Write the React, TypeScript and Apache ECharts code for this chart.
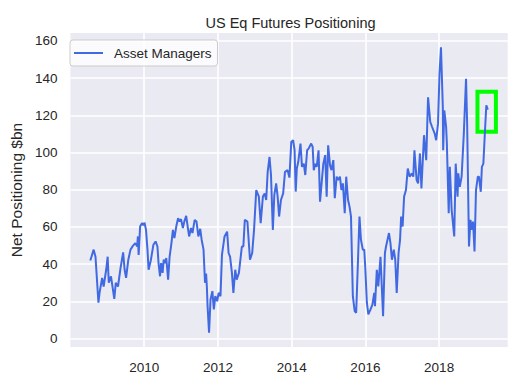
import React, { useEffect, useRef } from "react";
import * as echarts from "echarts";

// Decimal years (x) and net positioning in $bn (y)
const years: number[] = [
  2008.54, 2008.63, 2008.68, 2008.76, 2008.79, 2008.86, 2008.90, 2008.97, 2009.01, 2009.04,
  2009.10, 2009.19, 2009.23, 2009.29, 2009.36, 2009.43, 2009.47, 2009.51, 2009.57, 2009.63,
  2009.70, 2009.76, 2009.81, 2009.83, 2009.85, 2009.89, 2009.94, 2009.98, 2010.01, 2010.05,
  2010.09, 2010.12, 2010.18, 2010.25, 2010.31, 2010.36, 2010.39, 2010.43, 2010.46, 2010.50,
  2010.53, 2010.57, 2010.60, 2010.65, 2010.69, 2010.74, 2010.78, 2010.82, 2010.87, 2010.92,
  2010.96, 2011.00, 2011.05, 2011.09, 2011.14, 2011.18, 2011.22, 2011.27, 2011.31, 2011.37,
  2011.42, 2011.47, 2011.52, 2011.56, 2011.61, 2011.65, 2011.68, 2011.70, 2011.72, 2011.76,
  2011.80, 2011.85, 2011.89, 2011.93, 2011.98, 2012.02, 2012.07, 2012.11, 2012.18, 2012.25,
  2012.29, 2012.33, 2012.38, 2012.42, 2012.47, 2012.51, 2012.57, 2012.65, 2012.69, 2012.73,
  2012.80, 2012.87, 2012.93, 2012.98, 2013.04, 2013.11, 2013.16, 2013.22, 2013.27, 2013.31,
  2013.35, 2013.40, 2013.44, 2013.49, 2013.53, 2013.58, 2013.62, 2013.66, 2013.71, 2013.77,
  2013.82, 2013.89, 2013.94, 2013.99, 2014.04, 2014.08, 2014.11, 2014.14, 2014.18, 2014.24,
  2014.28, 2014.33, 2014.37, 2014.42, 2014.46, 2014.53, 2014.57, 2014.60, 2014.64, 2014.68,
  2014.73, 2014.77, 2014.82, 2014.86, 2014.91, 2014.95, 2014.99, 2015.04, 2015.08, 2015.13,
  2015.17, 2015.22, 2015.26, 2015.31, 2015.35, 2015.39, 2015.44, 2015.48, 2015.53, 2015.57,
  2015.61, 2015.66, 2015.71, 2015.75, 2015.80, 2015.84, 2015.88, 2015.93, 2015.97, 2016.00,
  2016.04, 2016.08, 2016.14, 2016.19, 2016.24, 2016.26, 2016.31, 2016.35, 2016.41, 2016.48,
  2016.53, 2016.56, 2016.64, 2016.68, 2016.72, 2016.77, 2016.81, 2016.85, 2016.90, 2016.94,
  2016.97, 2017.01, 2017.05, 2017.10, 2017.15, 2017.20, 2017.26, 2017.30, 2017.33, 2017.39,
  2017.43, 2017.48, 2017.52, 2017.59, 2017.65, 2017.70, 2017.76, 2017.81, 2017.88, 2017.92,
  2017.97, 2018.01, 2018.05, 2018.10, 2018.11, 2018.14, 2018.19, 2018.21, 2018.26, 2018.29,
  2018.34, 2018.41, 2018.45, 2018.50, 2018.52, 2018.56, 2018.61, 2018.67, 2018.73, 2018.76,
  2018.81, 2018.85, 2018.89, 2018.92, 2018.96, 2019.00, 2019.05, 2019.08, 2019.13, 2019.16,
  2019.20, 2019.24, 2019.28, 2019.32,
];

const positioning: number[] = [
  42.0, 47.8, 44.0, 19.3, 24.6, 32.6, 28.0, 37.0, 44.0, 30.0,
  33.5, 21.4, 30.0, 28.0, 38.0, 46.3, 37.0, 32.6, 42.4, 47.8,
  50.0, 51.3, 49.5, 54.9, 45.0, 60.2, 62.0, 61.0, 62.3, 58.4,
  47.8, 37.0, 42.0, 50.4, 52.2, 49.5, 40.6, 33.5, 40.6, 35.3,
  42.4, 40.6, 43.3, 31.7, 44.0, 51.3, 58.4, 54.0, 60.2, 64.7,
  62.9, 64.2, 59.4, 63.0, 66.0, 60.2, 54.9, 59.4, 56.7, 63.8,
  62.9, 54.9, 59.0, 53.0, 47.8, 30.0, 35.0, 28.0, 17.4, 3.2,
  21.0, 25.5, 15.7, 22.8, 20.1, 24.6, 22.8, 45.0, 54.9, 57.5,
  46.0, 44.0, 35.3, 24.6, 37.0, 31.7, 35.3, 49.5, 49.5, 63.8,
  62.9, 42.4, 46.0, 58.4, 79.8, 76.3, 62.0, 76.3, 78.0, 74.5,
  89.6, 97.6, 87.9, 58.4, 77.2, 83.4, 76.3, 65.6, 74.5, 78.0,
  89.6, 90.5, 86.5, 105.7, 106.6, 101.2, 79.0, 91.4, 95.0, 104.8,
  92.3, 94.0, 87.9, 101.2, 102.1, 104.8, 103.0, 90.5, 94.0, 92.3,
  101.2, 73.6, 85.2, 94.0, 98.6, 76.3, 103.9, 93.2, 90.5, 95.9,
  75.4, 87.0, 85.2, 87.0, 79.8, 83.4, 67.4, 87.0, 74.5, 70.9,
  65.6, 22.8, 14.8, 13.9, 42.4, 65.6, 53.1, 47.8, 47.8, 37.0,
  19.3, 13.0, 15.7, 18.3, 24.6, 17.4, 37.0, 28.0, 44.0, 12.0,
  46.0, 49.5, 56.7, 51.3, 42.4, 47.8, 42.4, 24.6, 46.0, 53.0,
  65.6, 60.2, 76.3, 79.8, 91.4, 87.0, 88.8, 87.0, 101.2, 85.2,
  83.4, 99.5, 80.7, 109.3, 95.9, 129.7, 116.4, 113.7, 110.2, 106.6,
  115.5, 142.2, 156.5, 124.4, 101.2, 122.6, 113.7, 104.8, 67.4, 92.3,
  69.1, 54.9, 94.0, 76.3, 88.8, 81.6, 87.0, 110.2, 139.6, 115.5,
  49.5, 63.8, 58.4, 62.9, 46.8, 79.8, 87.0, 87.0, 78.9, 92.3,
  94.0, 110.2, 125.3, 123.0,
];

const xTicks: number[] = [2010, 2012, 2014, 2016, 2018];
const yTicks: number[] = [0, 20, 40, 60, 80, 100, 120, 140, 160];

// Highlight box around the latest readings: [x0, y0] to [x1, y1] in data units
const highlightX: number[] = [2019.04, 2019.54];
const highlightY: number[] = [132.6, 111.2];

const FONT = "'Liberation Sans', Arial, Helvetica, sans-serif";
const TEXT = "#262626";

export default function App() {
  const ref = useRef<HTMLDivElement>(null);

  useEffect(() => {
    if (!ref.current) return;
    const chart = echarts.init(ref.current, undefined, { renderer: "svg" });
    const data = years.map((y, i) => [y, positioning[i]]);
    chart.setOption({
      animation: false,
      backgroundColor: "#ffffff",
      textStyle: { fontFamily: FONT },
      title: {
        text: "US Eq Futures Positioning",
        left: 285.5,
        textAlign: "center",
        top: 10,
        textStyle: { fontFamily: FONT, fontSize: 14.5, fontWeight: "normal", color: TEXT },
      },
      legend: {
        left: 70,
        top: 40,
        orient: "vertical",
        icon: "rect",
        itemWidth: 29,
        itemHeight: 2,
        padding: [6, 6, 6, 4],
        backgroundColor: "rgba(255,255,255,0.8)",
        borderColor: "#cccccc",
        borderWidth: 1,
        borderRadius: 3,
        textStyle: { fontFamily: FONT, fontSize: 13.5, color: TEXT, padding: [0, 0, 0, 6] },
        data: ["Asset Managers"],
      },
      grid: {
        left: 63.3,
        right: 8.3,
        top: 33,
        bottom: 38,
        show: true,
        backgroundColor: "#EAEAF2",
        borderWidth: 0,
      },
      xAxis: {
        type: "value",
        min: 2008.0,
        max: 2019.86,
        axisLine: { show: false },
        axisTick: { show: false, customValues: xTicks },
        axisLabel: {
          customValues: xTicks,
          margin: 13,
          fontFamily: FONT,
          fontSize: 13.5,
          color: TEXT,
          formatter: (v: number) => String(Math.round(v)),
        },
        splitLine: { show: true, lineStyle: { color: "#ffffff", width: 1.6 } },
      },
      yAxis: {
        type: "value",
        min: -4.5,
        max: 164.2,
        name: "Net Positioning $bn",
        nameLocation: "middle",
        nameGap: 42,
        nameTextStyle: { fontFamily: FONT, fontSize: 15.5, color: TEXT },
        axisLine: { show: false },
        axisTick: { show: false, customValues: yTicks },
        axisLabel: {
          customValues: yTicks,
          margin: 13,
          fontFamily: FONT,
          fontSize: 13.5,
          color: TEXT,
        },
        splitLine: { show: true, lineStyle: { color: "#ffffff", width: 1.6 } },
      },
      series: [
        {
          name: "Asset Managers",
          type: "line",
          data,
          symbol: "none",
          color: "#4169E1",
          lineStyle: { color: "#4169E1", width: 2 },
          markArea: {
            silent: true,
            itemStyle: { color: "rgba(0,0,0,0)", borderColor: "#00FF00", borderWidth: 4 },
            data: [
              [
                { xAxis: highlightX[0], yAxis: highlightY[0] },
                { xAxis: highlightX[1], yAxis: highlightY[1] },
              ],
            ],
          },
        },
      ],
    });
    return () => chart.dispose();
  }, []);

  return (
    <div
      ref={ref}
      style={{ position: "fixed", left: 0, top: 0, width: 516, height: 385 }}
    />
  );
}
